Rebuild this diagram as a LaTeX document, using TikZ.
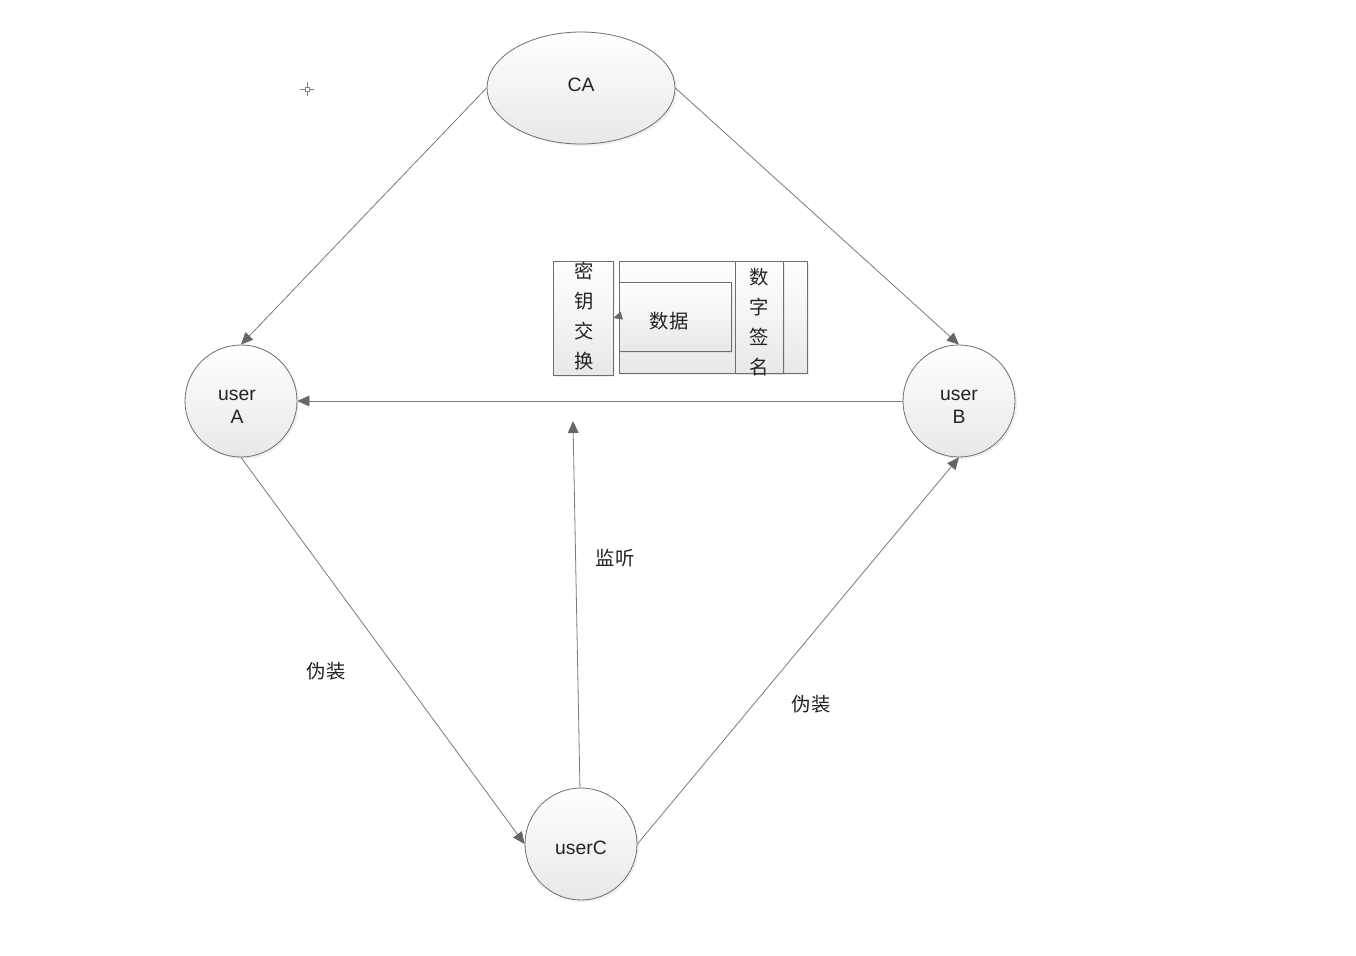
\documentclass[tikz,border=0pt]{standalone}
\usepackage{fontspec}
\setmainfont{Liberation Sans}
\newfontfamily\cjk{Noto Sans CJK SC}
\usetikzlibrary{arrows.meta,shapes.geometric,shadows}
\definecolor{linec}{HTML}{7A7A7A}
\definecolor{borderc}{HTML}{6E6E6E}
\definecolor{tipc}{HTML}{666666}
\definecolor{crossc}{HTML}{5A8DB3}
\definecolor{textc}{HTML}{222222}
\begin{document}
\begin{tikzpicture}[x=0.75pt,y=-0.75pt,
  shapebase/.style={draw=borderc, line width=0.6pt, top color=white, bottom color=black!9,
    drop shadow={opacity=0.12, shadow xshift=1.5pt, shadow yshift=-1.5pt}},
  lattext/.style={text=textc, align=center, inner sep=0pt, font=\fontsize{14.5}{17.25}\selectfont},
  ellnode/.style={shapebase, ellipse, minimum width=141pt, minimum height=84pt, inner sep=0pt},
  circnode/.style={shapebase, circle, minimum size=84pt, inner sep=0pt},
  boxnode/.style={shapebase, rectangle, inner sep=0pt},
  cjktext/.style={text=textc, font=\cjk\fontsize{14.5}{22.5}\selectfont, align=center, inner sep=0pt},
  conn/.style={draw=linec, line width=0.6pt, -{Triangle[length=9pt,width=8pt,color=tipc]}},
  smallconn/.style={draw=linec, line width=0.6pt, -{Triangle[length=6.5pt,width=6pt,color=tipc]}}
]
\useasboundingbox[fill=white] (0,0) rectangle (1356,956);

% crosshair marker
\draw[crossc, line width=0.5pt] (305,87) rectangle (309,91);
\draw[crossc, line width=0.5pt] (300,89) -- (305,89) (309,89) -- (314,89)
  (307,82) -- (307,87) (307,91) -- (307,96);

% main nodes
\node[ellnode, label={[lattext, yshift=2pt]center:CA}] (ca) at (581,88) {};
\node[circnode, label={[lattext, xshift=-3pt, yshift=-4.5pt]center:user\\A}] (ua) at (241,401) {};
\node[circnode, label={[lattext, yshift=-4.5pt]center:user\\B}] (ub) at (959,401) {};
\node[circnode, label={[lattext, yshift=-3pt]center:userC}] (uc) at (581,844) {};

% central boxes
\node[boxnode, minimum width=141pt, minimum height=84pt] (outer) at (713,317) {};
\node[boxnode, minimum width=84pt, minimum height=51.75pt,
  label={[cjktext, xshift=-4.5pt, yshift=-3.4pt]center:数据}] (data) at (675,316.5) {};
\node[boxnode, minimum width=36pt, minimum height=84pt] (sig) at (759,317) {};
\begin{scope}
  \clip (736,262) rectangle (782,377);
  \node[cjktext] (sigtext) at (759,322) {数\\字\\签\\名};
\end{scope}
\node[boxnode, minimum width=45pt, minimum height=85.5pt] (kx) at (583,318) {};
\node[cjktext] (kxtext) at (584,316.5) {密\\钥\\交\\换};

% free end of the listening arrow
\coordinate (lt) at (573,421);

% connectors
\draw[conn] (ca.west) -- (ua.north);
\draw[conn] (ca.east) -- (ub.north);
\draw[conn] (ub.west) -- (ua.east);
\draw[conn] (ua.south) -- (uc.west);
\draw[conn] (uc.east) -- (ub.south);
\draw[conn] (uc) -- (lt);
\draw[smallconn] (data.west) -- (kx.east);

% labels
\node[cjktext] (l1) at (326,671) {伪装};
\node[cjktext] (l2) at (811,704) {伪装};
\node[cjktext] (l3) at (615,558) {监听};
\end{tikzpicture}
\end{document}
